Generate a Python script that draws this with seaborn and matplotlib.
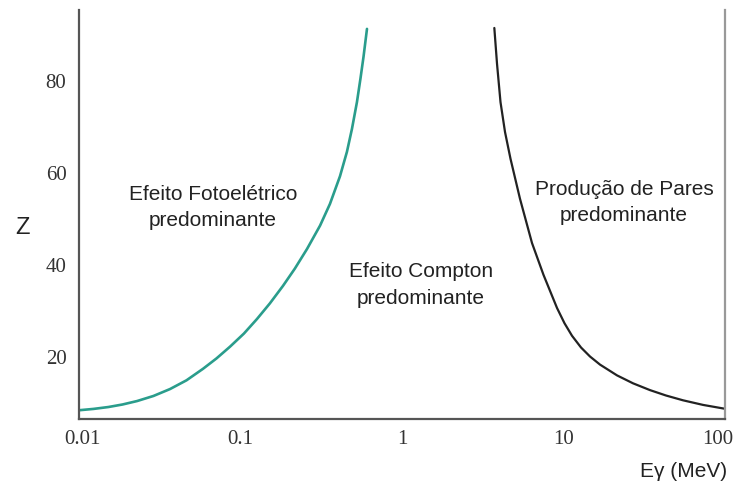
import matplotlib
matplotlib.use("Agg")
import matplotlib.pyplot as plt
import matplotlib.transforms as mtransforms
import seaborn as sns
import pandas as pd

# --- data ---
foto_E = [0.01, 0.0123, 0.0152, 0.0186, 0.0229, 0.0289, 0.0366, 0.0463, 0.0586, 0.071,
          0.0861, 0.105, 0.1264, 0.152, 0.1832, 0.217, 0.258, 0.311, 0.358, 0.413,
          0.456, 0.490, 0.526, 0.553, 0.578, 0.607]
foto_Z = [8.2, 8.49, 8.9, 9.45, 10.2, 11.3, 12.8, 14.7, 17.2, 19.45,
          22.0, 24.85, 28.0, 31.4, 35.2, 38.95, 43.2, 48.3, 53.0, 59.0,
          64.3, 69.3, 75.1, 80.2, 85.0, 91.0]

pares_E = [3.73, 3.876, 4.073, 4.344, 4.697, 5.379, 6.383, 7.518, 9.118, 10.14,
           11.29, 12.84, 14.59, 16.83, 21.45, 26.94, 34.33, 43.13, 54.95, 73.1, 100.0]
pares_Z = [91.2, 83.4, 75.1, 68.6, 62.8, 54.1, 44.5, 37.6, 30.4, 27.1,
           24.37, 21.82, 19.87, 18.11, 15.77, 14.05, 12.57, 11.4, 10.36, 9.36, 8.52]

x_ticks = [0.01, 0.1, 1, 10, 100]
x_ticklabels = ["0.01", "0.1", "1", "10", "100"]
y_ticks = [10, 20, 30, 40, 50, 60, 70, 80, 90]
y_ticklabels = ["", "20", "", "40", "", "60", "", "80", ""]

region_labels = ["Efeito Fotoelétrico\npredominante",
                 "Efeito Compton\npredominante",
                 "Produção de Pares\npredominante"]
region_E = [0.0676, 1.31, 23.7]
region_Z = [52.4, 35.6, 53.5]

df_foto = pd.DataFrame({"E": foto_E, "Z": foto_Z})
df_pares = pd.DataFrame({"E": pares_E, "Z": pares_Z})

sns.set_style("white")
sans = ["Liberation Sans", "DejaVu Sans"]
serif = ["Liberation Serif", "DejaVu Serif"]

fig = plt.figure(figsize=(7.39, 4.89), dpi=100)
W, H = 739, 489
ax = fig.add_axes([79 / W, (H - 420) / H, (725 - 79) / W, (420 - 11) / H])

sns.lineplot(data=df_foto, x="E", y="Z", ax=ax, color="#2a9d8c", linewidth=1.9, sort=False)
sns.lineplot(data=df_pares, x="E", y="Z", ax=ax, color="#222222", linewidth=1.6, sort=False)

ax.set_xscale("log")
ax.set_xlim(0.01, 100)
ax.set_ylim(6.3, 95.1)

ax.set_xticks(x_ticks)
ax.set_xticklabels(x_ticklabels, fontfamily=serif, fontsize=15, color="#333333")
ax.xaxis.set_minor_locator(matplotlib.ticker.NullLocator())
ax.set_yticks(y_ticks)
ax.set_yticklabels(y_ticklabels, fontfamily=serif, fontsize=15, color="#333333")

ax.tick_params(axis="x", direction="in", length=6, width=1.2, color="#555555", pad=7)
ax.tick_params(axis="y", direction="in", length=6, width=1.2, color="#555555", pad=9)

# nudge the end labels like in the reference
xl = ax.get_xticklabels()
xl[0].set_transform(xl[0].get_transform() + mtransforms.ScaledTranslation(3 / 100, 0, fig.dpi_scale_trans))
xl[-1].set_transform(xl[-1].get_transform() + mtransforms.ScaledTranslation(-7 / 100, 0, fig.dpi_scale_trans))

ax.set_xlabel("")
ax.set_ylabel("")

for side in ["left", "bottom"]:
    ax.spines[side].set_color("#555555")
    ax.spines[side].set_linewidth(1.6)
ax.spines["right"].set_color("#999999")
ax.spines["right"].set_linewidth(1.6)
ax.spines["top"].set_visible(False)

for lab, e, z in zip(region_labels, region_E, region_Z):
    ax.text(e, z, lab, ha="center", va="center", fontsize=15, family=sans,
            color="#222222", linespacing=1.5)

ax.text(-0.088, 0.469, "Z", transform=ax.transAxes, ha="center", va="center",
        fontsize=17, family=sans, color="#222222")
ax.text(1.003, -0.127, "Eγ (MeV)", transform=ax.transAxes, ha="right", va="center",
        fontsize=15, family=sans, color="#222222")

fig.savefig("out.png", dpi=100)
